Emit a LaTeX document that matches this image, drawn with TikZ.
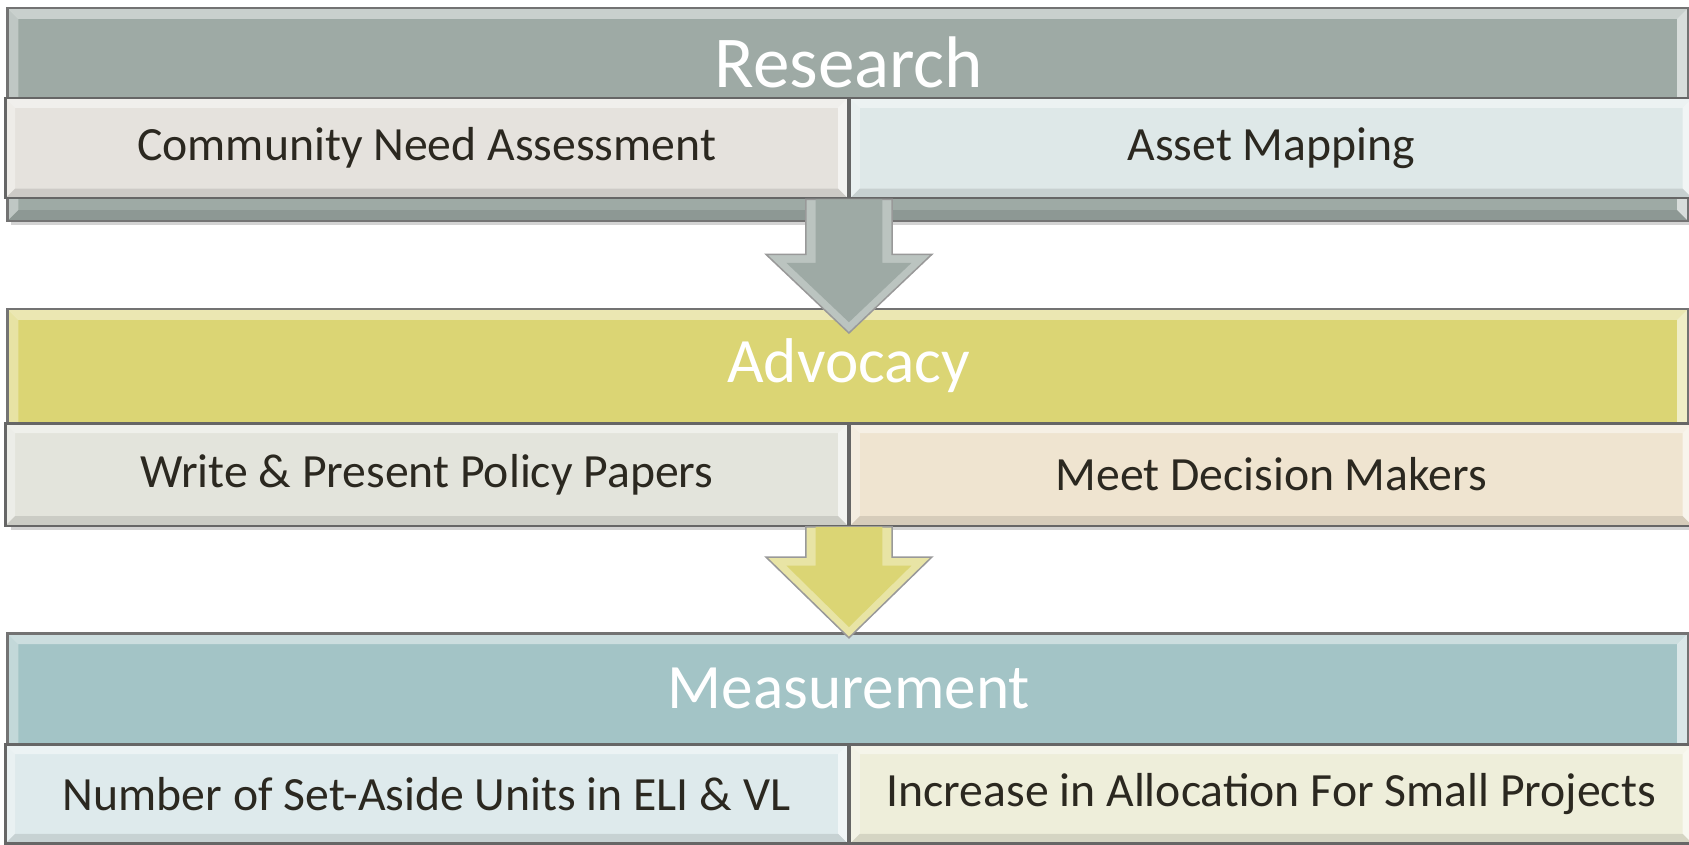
\documentclass[tikz,border=0pt]{standalone}
\usepackage{fontspec}
\setmainfont{Carlito}
\usetikzlibrary{positioning,calc,shadows}
\definecolor{res_band}{RGB}{158, 170, 165}
\definecolor{res_left}{RGB}{229, 226, 221}
\definecolor{res_right}{RGB}{222, 232, 232}
\definecolor{adv_band}{RGB}{219, 213, 116}
\definecolor{adv_left}{RGB}{227, 228, 220}
\definecolor{adv_right}{RGB}{239, 228, 208}
\definecolor{mea_band}{RGB}{163, 196, 198}
\definecolor{mea_left}{RGB}{222, 234, 236}
\definecolor{mea_right}{RGB}{238, 238, 218}
\definecolor{txt_dark}{RGB}{43, 40, 32}
\tikzset{bevel/.style={path picture={
  \fill[white,opacity=0.45] (path picture bounding box.north west) -- (path picture bounding box.north east)
    -- ([shift={(-#1,-#1)}]path picture bounding box.north east) -- ([shift={(#1,-#1)}]path picture bounding box.north west) -- cycle;
  \fill[white,opacity=0.35] (path picture bounding box.north west) -- ([shift={(#1,-#1)}]path picture bounding box.north west)
    -- ([shift={(#1,#1)}]path picture bounding box.south west) -- (path picture bounding box.south west) -- cycle;
  \fill[white,opacity=0.6] (path picture bounding box.north east) -- ([shift={(-#1,-#1)}]path picture bounding box.north east)
    -- ([shift={(-#1,#1)}]path picture bounding box.south east) -- (path picture bounding box.south east) -- cycle;
  \fill[black,opacity=0.10] (path picture bounding box.south west) -- ([shift={(#1,#1)}]path picture bounding box.south west)
    -- ([shift={(-#1,#1)}]path picture bounding box.south east) -- (path picture bounding box.south east) -- cycle;
  }},
  bevel/.default=0.09cm}
\tikzstyle{band}=[rectangle,anchor=north west,draw=black!55,line width=0.6pt,inner sep=0pt,
  minimum width=15.60cm,bevel=0.10cm,drop shadow={shadow xshift=0.03cm,shadow yshift=-0.04cm,opacity=0.35}]
\tikzstyle{subbox}=[rectangle,draw=black!60,line width=0.6pt,inner sep=0pt,text=txt_dark,
  font=\fontsize{12.6}{14}\selectfont,minimum width=7.82cm,bevel]
\tikzstyle{title}=[text=white,inner sep=0pt,font=\fontsize{16.7}{18}\selectfont]

\begin{document}
\begin{tikzpicture}
        \useasboundingbox (0,0) rectangle (15.68,-7.84);
        % research
        \node[band,fill=res_band,minimum height=1.975cm] (res) at (0.06,-0.065) {};
        \node[subbox,fill=res_left,anchor=north west,minimum height=0.93cm] (resleft) at (0.04,-0.90) {Community Need Assessment};
        \node[subbox,fill=res_right,minimum height=0.93cm,right=0pt of resleft] (resright) {Asset Mapping};
        \node[title,font=\fontsize{19.3}{21}\selectfont] (restitle) at (7.88,-0.58) {Research};
        % advocacy
        \node[band,fill=adv_band,minimum height=2.01cm] (adv) at (0.06,-2.86) {};
        \node[subbox,fill=adv_left,anchor=north west,minimum height=0.95cm] (advleft) at (0.04,-3.92) {Write \& Present Policy Papers};
        \node[subbox,fill=adv_right,minimum height=0.95cm,right=0pt of advleft] (advright) {Meet Decision Makers};
        \node[title] (advtitle) at (7.88,-3.39) {Advocacy};
        % measurement
        \node[band,fill=mea_band,minimum height=1.96cm] (mea) at (0.06,-5.87) {};
        \node[subbox,fill=mea_left,anchor=north west,minimum height=0.92cm] (mealeft) at (0.04,-6.90) {Number of Set-Aside Units in ELI \& VL};
        \node[subbox,fill=mea_right,minimum height=0.92cm,right=0pt of mealeft] (mearight) {Increase in Allocation For Small Projects};
        \node[title] (meatitle) at (7.88,-6.39) {Measurement};
        % arrows
        \coordinate (arr1) at (resleft.south east);
        \coordinate (arr2) at (advleft.south east);
        \fill[res_band!70!white,draw=black!40,line width=0.4pt] ($(arr1)+(-0.40,0)$) -- ($(arr1)+(-0.40,-0.51)$) -- ($(arr1)+(-0.77,-0.51)$)
          -- ($(arr1)+(0,-1.24)$) -- ($(arr1)+(0.77,-0.51)$) -- ($(arr1)+(0.40,-0.51)$) -- ($(arr1)+(0.40,0)$) -- cycle;
        \fill[res_band] ($(arr1)+(-0.31,0)$) -- ($(arr1)+(-0.31,-0.59)$) -- ($(arr1)+(-0.58,-0.59)$)
          -- ($(arr1)+(0,-1.14)$) -- ($(arr1)+(0.58,-0.59)$) -- ($(arr1)+(0.31,-0.59)$) -- ($(arr1)+(0.31,0)$) -- cycle;
        \fill[adv_band!65!white,draw=black!40,line width=0.4pt] ($(arr2)+(-0.40,0)$) -- ($(arr2)+(-0.40,-0.28)$) -- ($(arr2)+(-0.77,-0.28)$)
          -- ($(arr2)+(0,-1.03)$) -- ($(arr2)+(0.77,-0.28)$) -- ($(arr2)+(0.40,-0.28)$) -- ($(arr2)+(0.40,0)$) -- cycle;
        \fill[adv_band] ($(arr2)+(-0.31,0)$) -- ($(arr2)+(-0.31,-0.36)$) -- ($(arr2)+(-0.58,-0.36)$)
          -- ($(arr2)+(0,-0.93)$) -- ($(arr2)+(0.58,-0.36)$) -- ($(arr2)+(0.31,-0.36)$) -- ($(arr2)+(0.31,0)$) -- cycle;
    \end{tikzpicture}
\end{document}
